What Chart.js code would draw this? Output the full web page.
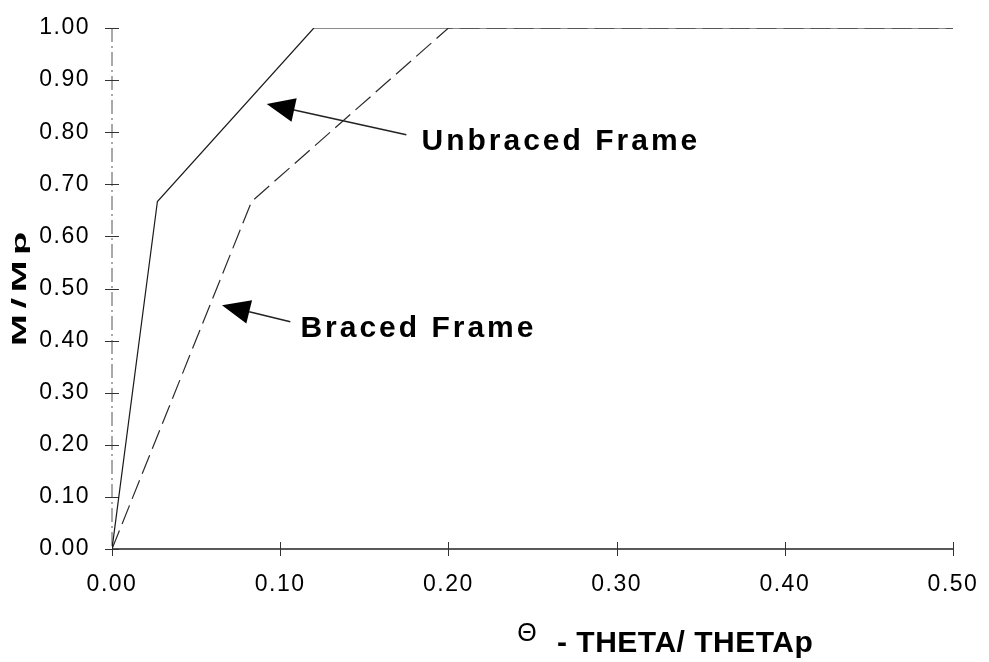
<!DOCTYPE html>
<html>
<head>
<meta charset="utf-8">
<script src="https://cdn.jsdelivr.net/npm/chart.js@4.4.0/dist/chart.umd.min.js"></script>
<style>
  body { margin: 0; background: #fff; }
  #wrap { width: 989px; height: 662px; }
</style>
</head>
<body>
<div id="wrap"><canvas id="chart" width="989" height="662"></canvas></div>
<script>
// values (rotation ratio vs moment ratio)
const unbracedTheta = [0, 0.027, 0.12, 0.50];
const unbracedMoment = [0, 0.667, 1.00, 1.00];
const bracedTheta = [0, 0.083, 0.20, 0.50];
const bracedMoment = [0, 0.667, 1.00, 1.00];

const xTicks = [0, 0.1, 0.2, 0.3, 0.4, 0.5];
const yTicks = [0, 0.1, 0.2, 0.3, 0.4, 0.5, 0.6, 0.7, 0.8, 0.9, 1.0];

const fontFamily = "'Liberation Sans', Arial, Helvetica, sans-serif";
const tickFontSize = 23;

// arrows + labels, given in data units so they follow the scales
const callouts = [
    { text: "Unbraced Frame", tip: [0.092, 0.854], tail: [0.175, 0.795], at: [0.184, 0.766] },
    { text: "Braced Frame", tip: [0.0654, 0.468], tail: [0.106, 0.436], at: [0.112, 0.407] },
];

function toPoints(xs, ys) {
    return xs.map((x, i) => ({ x: x, y: ys[i] }));
}

// axes are drawn by hand: dash-dot y axis, ticks that cross the axis line
const axesPlugin = {
    id: 'hand_axes',
    beforeDraw: (chart) => {
        // a bit of tracking on the tick labels, the scan has loose digits
        chart.ctx.letterSpacing = '1.5px';
    },
    beforeDatasetsDraw: (chart) => {
        const ctx = chart.ctx;
        const xs = chart.scales.x;
        const ys = chart.scales.y;
        const x0 = xs.getPixelForValue(0);
        const y0 = ys.getPixelForValue(0);
        ctx.save();
        ctx.letterSpacing = '0px';

        // y axis
        ctx.strokeStyle = '#555';
        ctx.lineWidth = 1;
        ctx.setLineDash([14, 4, 2, 4]);
        ctx.beginPath();
        ctx.moveTo(x0, ys.getPixelForValue(1));
        ctx.lineTo(x0, y0);
        ctx.stroke();
        ctx.setLineDash([]);

        // x axis
        ctx.strokeStyle = '#222';
        ctx.lineWidth = 1.5;
        ctx.beginPath();
        ctx.moveTo(x0, y0);
        ctx.lineTo(xs.getPixelForValue(0.5), y0);
        ctx.stroke();

        // tick marks, 7px each side
        ctx.lineWidth = 1;
        ctx.strokeStyle = '#333';
        ctx.beginPath();
        for (const v of yTicks) {
            const py = Math.round(ys.getPixelForValue(v)) + 0.5;
            ctx.moveTo(x0 - 7, py);
            ctx.lineTo(x0 + 7, py);
        }
        for (const v of xTicks) {
            const px = Math.round(xs.getPixelForValue(v)) + 0.5;
            ctx.moveTo(px, y0 - 7);
            ctx.lineTo(px, y0 + 7);
        }
        ctx.stroke();
        ctx.restore();
    },
    afterDraw: (chart) => {
        const ctx = chart.ctx;
        const xs = chart.scales.x;
        const ys = chart.scales.y;
        ctx.save();
        ctx.fillStyle = '#000';
        ctx.strokeStyle = '#222';

        // callouts
        for (const c of callouts) {
            const tx = xs.getPixelForValue(c.tip[0]);
            const ty = ys.getPixelForValue(c.tip[1]);
            const sx = xs.getPixelForValue(c.tail[0]);
            const sy = ys.getPixelForValue(c.tail[1]);
            const ang = Math.atan2(ty - sy, tx - sx);
            const headLen = 28;
            const headHalf = 12;
            const bx = tx - headLen * Math.cos(ang);
            const by = ty - headLen * Math.sin(ang);

            ctx.lineWidth = 1.5;
            ctx.beginPath();
            ctx.moveTo(sx, sy);
            ctx.lineTo(bx, by);
            ctx.stroke();

            ctx.beginPath();
            ctx.moveTo(tx, ty);
            ctx.lineTo(bx + headHalf * Math.sin(ang), by - headHalf * Math.cos(ang));
            ctx.lineTo(bx - headHalf * Math.sin(ang), by + headHalf * Math.cos(ang));
            ctx.closePath();
            ctx.fill();

            ctx.font = `bold 30px ${fontFamily}`;
            ctx.letterSpacing = '3px';
            ctx.textAlign = 'left';
            ctx.textBaseline = 'alphabetic';
            ctx.fillText(c.text, xs.getPixelForValue(c.at[0]), ys.getPixelForValue(c.at[1]));
        }

        // x title: theta symbol then the bold part
        ctx.letterSpacing = '0px';
        ctx.font = `25px ${fontFamily}`;
        ctx.textAlign = 'center';
        ctx.textBaseline = 'middle';
        ctx.fillText('\u0398', 527, 634);
        ctx.font = `bold 30px ${fontFamily}`;
        ctx.letterSpacing = '0.5px';
        ctx.textAlign = 'left';
        ctx.textBaseline = 'alphabetic';
        ctx.fillText('- THETA/ THETAp', 557, 652);

        // y title, stretched like the scan
        ctx.translate(20, 286);
        ctx.rotate(-Math.PI / 2);
        ctx.scale(1.9, 1);
        ctx.font = `bold 20px ${fontFamily}`;
        ctx.letterSpacing = '3px';
        ctx.textAlign = 'center';
        ctx.textBaseline = 'middle';
        ctx.fillText('M/Mp', 0, 0);
        ctx.restore();
    }
};

const config = {
    type: 'scatter',
    data: {
        datasets: [
            {
                label: 'Unbraced Frame',
                data: toPoints(unbracedTheta, unbracedMoment),
                showLine: true,
                borderColor: '#1a1a1a',
                borderWidth: 1.2,
                pointRadius: 0,
                tension: 0,
            },
            {
                label: 'Braced Frame',
                data: toPoints(bracedTheta, bracedMoment),
                showLine: true,
                borderColor: '#2a2a2a',
                borderWidth: 1.2,
                borderDash: [20, 7],
                pointRadius: 0,
                tension: 0,
            },
        ]
    },
    options: {
        responsive: false,
        animation: false,
        devicePixelRatio: 1,
        layout: { padding: { top: 28, right: 36, left: 0, bottom: 0 } },
        plugins: {
            legend: { display: false },
            tooltip: { enabled: false },
        },
        scales: {
            x: {
                type: 'linear',
                min: 0,
                max: 0.5,
                afterFit: (scale) => {
                    scale.height = 113;
                    // layout padding decides the edges, not the label overhang
                    scale.paddingLeft = 0;
                    scale.paddingRight = 0;
                },
                afterBuildTicks: (scale) => { scale.ticks = xTicks.map(v => ({ value: v })); },
                grid: { display: false, drawTicks: false },
                border: { display: false },
                ticks: {
                    padding: 22,
                    color: '#000',
                    font: { family: fontFamily, size: tickFontSize },
                    maxRotation: 0,
                    callback: (v) => Number(v).toFixed(2),
                },
            },
            y: {
                type: 'linear',
                min: 0,
                max: 1,
                afterFit: (scale) => {
                    scale.width = 112;
                    scale.paddingTop = 0;
                    scale.paddingBottom = 0;
                },
                afterBuildTicks: (scale) => { scale.ticks = yTicks.map(v => ({ value: v })); },
                grid: { display: false, drawTicks: false },
                border: { display: false },
                ticks: {
                    padding: 22,
                    color: '#000',
                    font: { family: fontFamily, size: tickFontSize },
                    callback: (v) => Number(v).toFixed(2),
                },
            },
        },
    },
    plugins: [axesPlugin],
};

new Chart(document.getElementById('chart').getContext('2d'), config);
</script>
</body>
</html>
